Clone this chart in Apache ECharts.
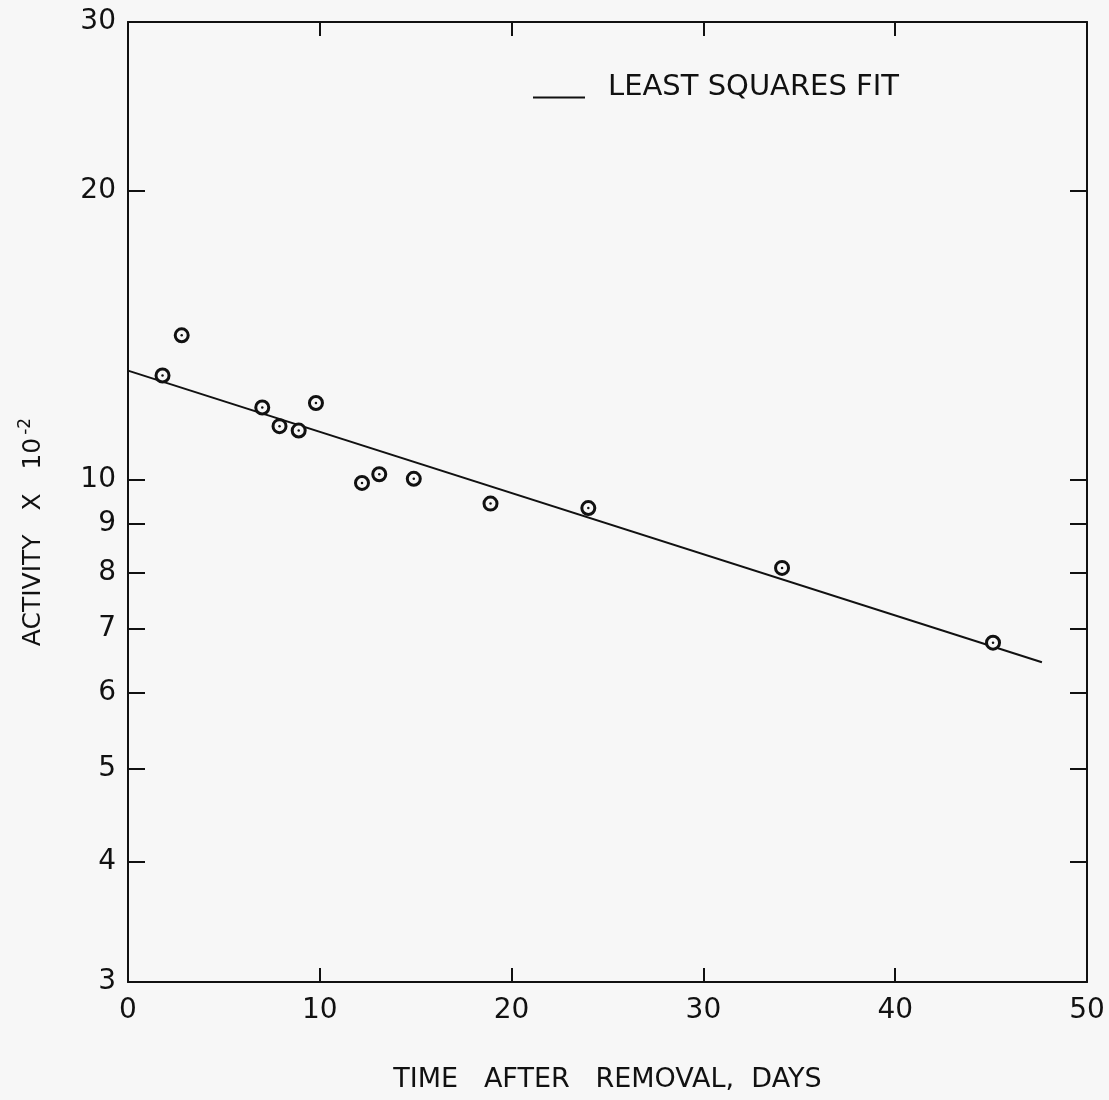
<!DOCTYPE html>
<html>
<head>
<meta charset="utf-8">
<script src="https://cdn.jsdelivr.net/npm/echarts@6/dist/echarts.min.js"></script>
<style>
  body { margin: 0; background: #f7f7f7; }
  #main { width: 1109px; height: 1100px; }
</style>
</head>
<body>
<div id="main"></div>
<script>
// measured points (days after removal, activity x 10^-2)
const days = [1.8, 2.8, 7.0, 7.9, 8.9, 9.8, 12.2, 13.1, 14.9, 18.9, 24.0, 34.1, 45.1];
const activity = [12.85, 14.15, 11.9, 11.38, 11.26, 12.03, 9.93, 10.14, 10.03, 9.45, 9.35, 8.10, 6.77];
// least squares fit end points
const fitDays = [0, 47.65];
const fitActivity = [13.0, 6.46];
const yTicks = [3, 4, 5, 6, 7, 8, 9, 10, 20, 30];

const ink = '#111';
const font = '"DejaVu Sans", sans-serif';

const pts = days.map((d, i) => [d, activity[i]]);
const fit = fitDays.map((d, i) => [d, fitActivity[i]]);

const chart = echarts.init(document.getElementById('main'));

const yBase = {
    type: 'log',
    logBase: 10,
    min: 3,
    max: 30,
    axisLine: { show: true, onZero: false, lineStyle: { color: ink, width: 2 } },
    axisTick: { show: true, inside: true, length: 17, customValues: yTicks, lineStyle: { color: ink, width: 2 } },
    splitLine: { show: false },
    minorTick: { show: false }
};

const xBase = {
    type: 'value',
    min: 0,
    max: 50,
    interval: 10,
    axisLine: { show: true, onZero: false, lineStyle: { color: ink, width: 2 } },
    axisTick: { show: true, inside: true, length: 14, lineStyle: { color: ink, width: 2 } },
    splitLine: { show: false }
};

const option = {
    animation: false,
    backgroundColor: '#f7f7f7',
    grid: { left: 128, right: 22, top: 22, bottom: 118 },
    legend: {
        data: ['LEAST SQUARES FIT'],
        left: 528,
        top: 68,
        icon: 'rect',
        itemWidth: 52,
        itemHeight: 2,
        itemStyle: { color: ink },
        formatter: '{a|{name}}',
        textStyle: {
            rich: {
                a: { color: ink, fontFamily: font, fontSize: 29, padding: [0, 0, 20, 18] }
            }
        }
    },
    xAxis: [
        Object.assign({}, xBase, {
            position: 'bottom',
            name: 'TIME   AFTER   REMOVAL,  DAYS',
            nameLocation: 'middle',
            nameGap: 84,
            nameTextStyle: { color: ink, fontFamily: font, fontSize: 27 },
            axisLabel: { color: ink, fontFamily: font, fontSize: 28, margin: 15 }
        }),
        Object.assign({}, xBase, {
            position: 'top',
            axisLabel: { show: false }
        })
    ],
    yAxis: [
        Object.assign({}, yBase, {
            position: 'left',
            name: '{t|ACTIVITY   X   10}{sup|-2}',
            nameLocation: 'middle',
            nameGap: 78,
            nameRotate: 90,
            nameTextStyle: {
                padding: [0, 60, 0, 0],
                rich: {
                    t: { color: ink, fontFamily: font, fontSize: 25 },
                    sup: { color: ink, fontFamily: font, fontSize: 17, padding: [0, 0, 16, 3] }
                }
            },
            axisLabel: { color: ink, fontFamily: font, fontSize: 28, margin: 12, customValues: yTicks }
        }),
        Object.assign({}, yBase, {
            position: 'right',
            axisLabel: { show: false }
        })
    ],
    series: [
        {
            name: 'LEAST SQUARES FIT',
            type: 'line',
            data: fit,
            showSymbol: false,
            lineStyle: { color: ink, width: 2 },
            itemStyle: { color: ink },
            z: 1
        },
        {
            name: 'measured',
            type: 'scatter',
            data: pts,
            symbol: 'circle',
            symbolSize: 13,
            itemStyle: { color: '#f7f7f7', borderColor: ink, borderWidth: 3, opacity: 1 },
            z: 2
        },
        {
            name: 'centre',
            type: 'scatter',
            data: pts,
            symbol: 'circle',
            symbolSize: 2.5,
            itemStyle: { color: ink, opacity: 1 },
            z: 3
        }
    ]
};

chart.setOption(option);
</script>
</body>
</html>
